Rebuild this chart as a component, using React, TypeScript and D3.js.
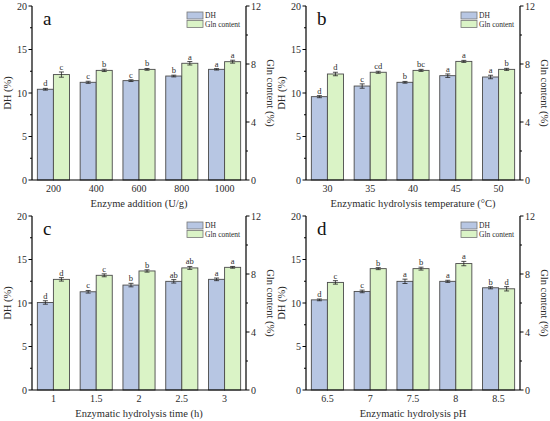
import { useMemo } from "react";
import * as d3 from "d3";

const WIDTH = 550;
const HEIGHT = 421;
const PANEL_W = 214;
const PANEL_H = 174;
const FONT = "Liberation Serif";
const TEXT = "#2b2b2b";

const DH_COLOR = "#b7c6e3";
const GLN_COLOR = "#daf3c6";
const STROKE = "#4a4a4a";

const DH_TICKS = [0, 5, 10, 15, 20];
const DH_MINOR = [2.5, 7.5, 12.5, 17.5];
const GLN_TICKS = [0, 4, 8, 12];
const GLN_MINOR = [2, 6, 10];

// panel a
const enzymeCats = ["200", "400", "600", "800", "1000"];
const enzymeDH = [10.43, 11.23, 11.42, 11.95, 12.72];
const enzymeDHErr = [0.1, 0.12, 0.1, 0.1, 0.08];
const enzymeDHSig = ["d", "c", "c", "b", "a"];
const enzymeGln = [7.27, 7.56, 7.63, 8.05, 8.16];
const enzymeGlnErr = [0.18, 0.08, 0.06, 0.12, 0.1];
const enzymeGlnSig = ["c", "b", "b", "a", "a"];

// panel b
const tempCats = ["30", "35", "40", "45", "50"];
const tempDH = [9.58, 10.8, 11.23, 11.99, 11.84];
const tempDHErr = [0.12, 0.25, 0.1, 0.2, 0.2];
const tempDHSig = ["d", "c", "b", "a", "a"];
const tempGln = [7.31, 7.43, 7.56, 8.18, 7.63];
const tempGlnErr = [0.12, 0.07, 0.07, 0.07, 0.07];
const tempGlnSig = ["d", "cd", "bc", "a", "b"];

// panel c
const timeCats = ["1", "1.5", "2", "2.5", "3"];
const timeDH = [10.06, 11.29, 12.06, 12.49, 12.72];
const timeDHErr = [0.2, 0.15, 0.2, 0.2, 0.15];
const timeDHSig = ["d", "c", "b", "ab", "a"];
const timeGln = [7.63, 7.91, 8.21, 8.42, 8.46];
const timeGlnErr = [0.12, 0.1, 0.08, 0.1, 0.06];
const timeGlnSig = ["d", "c", "b", "ab", "a"];

// panel d
const phCats = ["6.5", "7", "7.5", "8", "8.5"];
const phDH = [10.36, 11.33, 12.49, 12.49, 11.75];
const phDHErr = [0.1, 0.15, 0.25, 0.12, 0.12];
const phDHSig = ["d", "c", "a", "a", "b"];
const phGln = [7.42, 8.37, 8.37, 8.72, 6.98];
const phGlnErr = [0.12, 0.07, 0.1, 0.15, 0.15];
const phGlnSig = ["c", "b", "b", "a", "d"];

type PanelProps = {
  x: number;
  y: number;
  letter: string;
  xTitle: string;
  cats: string[];
  dh: number[];
  dhErr: number[];
  dhSig: string[];
  gln: number[];
  glnErr: number[];
  glnSig: string[];
};

const Panel = ({ x, y, letter, xTitle, cats, dh, dhErr, dhSig, gln, glnErr, glnSig }: PanelProps) => {
  const xScale = useMemo(
    () => d3.scaleBand().domain(cats).range([0, PANEL_W]).paddingInner(0.25).paddingOuter(0.125),
    [cats]
  );
  const subScale = useMemo(
    () => d3.scaleBand().domain(["DH", "Gln"]).range([0, xScale.bandwidth()]).padding(0),
    [xScale]
  );
  const yLeft = d3.scaleLinear().domain([0, 20]).range([PANEL_H, 0]);
  const yRight = d3.scaleLinear().domain([0, 12]).range([PANEL_H, 0]);
  const bw = subScale.bandwidth();

  const series = [
    { key: "DH", vals: dh, err: dhErr, sig: dhSig, scale: yLeft, fill: DH_COLOR },
    { key: "Gln", vals: gln, err: glnErr, sig: glnSig, scale: yRight, fill: GLN_COLOR },
  ];

  return (
    <g transform={`translate(${x},${y})`} fontFamily={FONT} fill={TEXT}>
      {series.map((s) =>
        cats.map((c, i) => {
          const bx = (xScale(c) ?? 0) + (subScale(s.key) ?? 0);
          const top = s.scale(s.vals[i]);
          const eTop = s.scale(s.vals[i] + s.err[i]);
          const eBot = s.scale(s.vals[i] - s.err[i]);
          const cx = bx + bw / 2;
          return (
            <g key={s.key + c}>
              <rect x={bx} y={top} width={bw} height={PANEL_H - top} fill={s.fill} stroke={STROKE} strokeWidth={0.9} />
              <line x1={cx} x2={cx} y1={eTop} y2={eBot} stroke="#222" strokeWidth={0.8} />
              <line x1={cx - 2.5} x2={cx + 2.5} y1={eTop} y2={eTop} stroke="#222" strokeWidth={0.8} />
              <line x1={cx - 2.5} x2={cx + 2.5} y1={eBot} y2={eBot} stroke="#222" strokeWidth={0.8} />
              <text x={cx} y={eTop - 2} textAnchor="middle" fontSize={8.5}>
                {s.sig[i]}
              </text>
            </g>
          );
        })
      )}

      {/* axes */}
      <line x1={0} x2={PANEL_W} y1={PANEL_H} y2={PANEL_H} stroke="#000" strokeWidth={1.2} />
      <line x1={0} x2={0} y1={0} y2={PANEL_H} stroke="#000" strokeWidth={1.2} />
      <line x1={PANEL_W} x2={PANEL_W} y1={0} y2={PANEL_H} stroke="#000" strokeWidth={1.2} />

      {DH_TICKS.map((t) => (
        <g key={"l" + t}>
          <line x1={-3.5} x2={0} y1={yLeft(t)} y2={yLeft(t)} stroke="#000" strokeWidth={1} />
          <text x={-5} y={yLeft(t)} dy="0.35em" textAnchor="end" fontSize={10}>
            {t}
          </text>
        </g>
      ))}
      {DH_MINOR.map((t) => (
        <line key={"lm" + t} x1={-2} x2={0} y1={yLeft(t)} y2={yLeft(t)} stroke="#000" strokeWidth={1} />
      ))}
      {GLN_TICKS.map((t) => (
        <g key={"r" + t}>
          <line x1={PANEL_W} x2={PANEL_W + 3.5} y1={yRight(t)} y2={yRight(t)} stroke="#000" strokeWidth={1} />
          <text x={PANEL_W + 5} y={yRight(t)} dy="0.35em" textAnchor="start" fontSize={10}>
            {t}
          </text>
        </g>
      ))}
      {GLN_MINOR.map((t) => (
        <line key={"rm" + t} x1={PANEL_W} x2={PANEL_W + 2} y1={yRight(t)} y2={yRight(t)} stroke="#000" strokeWidth={1} />
      ))}

      {cats.map((c) => (
        <text key={"x" + c} x={(xScale(c) ?? 0) + xScale.bandwidth() / 2} y={PANEL_H + 12} textAnchor="middle" fontSize={10}>
          {c}
        </text>
      ))}

      <text x={PANEL_W / 2} y={PANEL_H + 27} textAnchor="middle" fontSize={10.5}>
        {xTitle}
      </text>
      <text transform={`translate(${-21},${PANEL_H / 2}) rotate(-90)`} textAnchor="middle" fontSize={10.5}>
        DH (%)
      </text>
      <text transform={`translate(${PANEL_W + 21},${PANEL_H / 2}) rotate(90)`} textAnchor="middle" fontSize={10.5}>
        Gln content (%)
      </text>

      <text x={11} y={19} fontSize={19} fill="#111">
        {letter}
      </text>

      {/* legend */}
      <rect x={PANEL_W - 59} y={6} width={16} height={7} fill={DH_COLOR} stroke="#777" strokeWidth={0.8} />
      <text x={PANEL_W - 41} y={9.5} dy="0.35em" fontSize={7.5}>
        DH
      </text>
      <rect x={PANEL_W - 59} y={14.5} width={16} height={7} fill={GLN_COLOR} stroke="#777" strokeWidth={0.8} />
      <text x={PANEL_W - 41} y={18} dy="0.35em" fontSize={7.5}>
        Gln content
      </text>
    </g>
  );
};

export default function App() {
  return (
    <svg
      width={WIDTH}
      height={HEIGHT}
      style={{ position: "absolute", left: 0, top: 0, background: "#fff" }}
    >
      <Panel x={32} y={6} letter="a" xTitle="Enzyme addition (U/g)" cats={enzymeCats}
        dh={enzymeDH} dhErr={enzymeDHErr} dhSig={enzymeDHSig}
        gln={enzymeGln} glnErr={enzymeGlnErr} glnSig={enzymeGlnSig} />
      <Panel x={306} y={6} letter="b" xTitle="Enzymatic hydrolysis temperature (°C)" cats={tempCats}
        dh={tempDH} dhErr={tempDHErr} dhSig={tempDHSig}
        gln={tempGln} glnErr={tempGlnErr} glnSig={tempGlnSig} />
      <Panel x={32} y={216} letter="c" xTitle="Enzymatic hydrolysis time (h)" cats={timeCats}
        dh={timeDH} dhErr={timeDHErr} dhSig={timeDHSig}
        gln={timeGln} glnErr={timeGlnErr} glnSig={timeGlnSig} />
      <Panel x={306} y={216} letter="d" xTitle="Enzymatic hydrolysis pH" cats={phCats}
        dh={phDH} dhErr={phDHErr} dhSig={phDHSig}
        gln={phGln} glnErr={phGlnErr} glnSig={phGlnSig} />
    </svg>
  );
}
